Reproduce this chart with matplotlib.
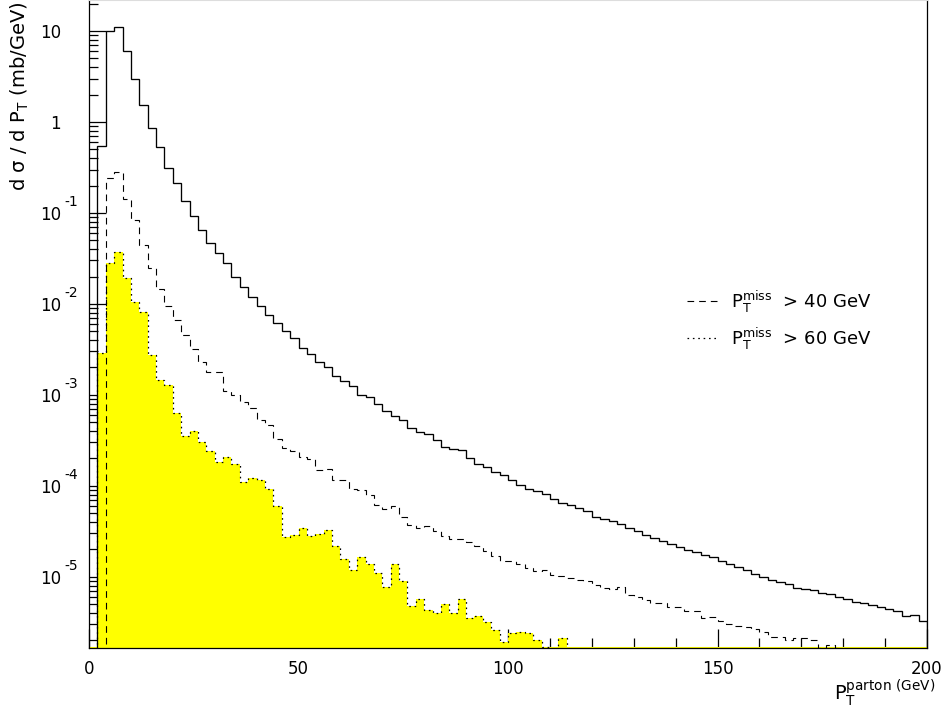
import numpy as np
import matplotlib
matplotlib.use("Agg")
import matplotlib.pyplot as plt
from matplotlib.lines import Line2D
from matplotlib import transforms

plt.rcParams['font.family'] = ['DejaVu Sans']
plt.rcParams['mathtext.fontset'] = 'dejavusans'

# ---- data (2 GeV bins, 0..200 GeV) ----
bin_edges = np.arange(0, 202, 2)

total = [0, 0.55, 10.0, 11.1, 6.0, 3.0, 1.54, 0.865, 0.536, 0.31,
         0.212, 0.134, 0.093, 0.065, 0.047, 0.036, 0.028, 0.020, 0.0155, 0.012,
         0.0095, 0.0076, 0.0062, 0.0050, 0.0042, 0.0033, 0.0028, 0.00232, 0.0020, 0.00163,
         0.00143, 0.00124, 0.0010, 0.00094, 0.00079, 0.00067, 0.00059, 0.00053, 0.000427, 0.00039,
         0.00037, 0.00032, 0.000266, 0.000253, 0.000245, 0.0002, 0.000176, 0.000162, 0.000141, 0.000132,
         0.000115, 0.000102, 0.000093, 0.000087, 0.000081, 0.000072, 6.45e-5, 6.17e-5, 5.69e-5, 5.23e-5,
         4.49e-5, 4.3e-5, 4.15e-5, 3.8e-5, 3.43e-5, 3.17e-5, 2.9e-5, 2.66e-5, 2.49e-5, 2.29e-5,
         2.12e-5, 1.98e-5, 1.87e-5, 1.75e-5, 1.65e-5, 1.51e-5, 1.39e-5, 1.28e-5, 1.19e-5, 1.08e-5,
         9.9e-6, 9.3e-6, 8.7e-6, 8.3e-6, 7.6e-6, 7.3e-6, 7.2e-6, 6.6e-6, 6.4e-6, 6.0e-6,
         5.7e-6, 5.3e-6, 5.1e-6, 4.9e-6, 4.7e-6, 4.4e-6, 4.2e-6, 3.7e-6, 3.8e-6, 3.3e-6]

miss40 = [0, 0, 0.24, 0.28, 0.141, 0.084, 0.0445, 0.0246, 0.0144, 0.0095,
          0.0066, 0.0045, 0.0032, 0.0023, 0.0018, 0.0018, 0.0011, 0.0010, 0.00083, 0.000715,
          0.00053, 0.00047, 0.00033, 0.00026, 0.00024, 0.00021, 0.000198, 0.000151, 0.000155, 0.000115,
          0.000115, 0.000092, 0.000089, 0.00008, 6.17e-5, 5.62e-5, 6.0e-5, 4.57e-5, 3.71e-5, 3.43e-5,
          3.66e-5, 3.17e-5, 2.83e-5, 2.63e-5, 2.63e-5, 2.42e-5, 2.16e-5, 1.9e-5, 1.71e-5, 1.49e-5,
          1.49e-5, 1.39e-5, 1.26e-5, 1.16e-5, 1.18e-5, 1.06e-5, 1.02e-5, 9.6e-6, 9.3e-6, 9.0e-6,
          8.1e-6, 7.5e-6, 7.4e-6, 7.8e-6, 6.3e-6, 6.0e-6, 5.6e-6, 5.2e-6, 5.2e-6, 4.7e-6,
          4.7e-6, 4.2e-6, 4.2e-6, 3.5e-6, 3.6e-6, 3.3e-6, 3.0e-6, 2.9e-6, 2.8e-6, 2.7e-6,
          2.5e-6, 2.2e-6, 2.2e-6, 2.0e-6, 2.1e-6, 2.1e-6, 2.0e-6, 1.65e-6, 1.8e-6, 1.65e-6,
          0, 0, 0, 0, 0, 0, 0, 0, 0, 0]

miss60 = [0, 0.00287, 0.0284, 0.0376, 0.0191, 0.0106, 0.0082, 0.00275, 0.00146, 0.00129,
          0.00063, 0.000355, 0.0004, 0.0003, 0.00024, 0.000183, 0.000205, 0.000173, 0.00011, 0.000122,
          0.000115, 0.000092, 0.00006, 2.75e-5, 2.9e-5, 3.43e-5, 2.78e-5, 2.95e-5, 3.28e-5, 2.16e-5,
          1.55e-5, 1.18e-5, 1.66e-5, 1.39e-5, 1.1e-5, 7.7e-6, 1.39e-5, 9.1e-6, 4.8e-6, 5.7e-6,
          4.3e-6, 4.0e-6, 5.0e-6, 4.0e-6, 5.7e-6, 3.5e-6, 3.7e-6, 3.2e-6, 2.6e-6, 1.9e-6,
          2.4e-6, 2.5e-6, 2.4e-6, 2.0e-6, 1.7e-6, 1.6e-6, 2.1e-6, 1.6e-6, 1.6e-6, 0,
          0, 0, 0, 0, 0, 0, 0, 0, 0, 0,
          0, 0, 0, 0, 0, 0, 0, 0, 0, 0,
          0, 0, 0, 0, 0, 0, 0, 0, 0, 0,
          0, 0, 0, 0, 0, 0, 0, 0, 0, 0]

legend_labels = [r"P$_\mathrm{T}^\mathrm{miss}$  > 40 GeV",
                 r"P$_\mathrm{T}^\mathrm{miss}$  > 60 GeV"]

y_decades = [1e-5, 1e-4, 1e-3, 1e-2, 1e-1, 1, 10]
y_ticklabels = ["10", "10", "10", "10", "10", "1", "10"]
y_exponents = {1e-5: "-5", 1e-4: "-4", 1e-3: "-3", 1e-2: "-2", 1e-1: "-1"}

ymin, ymax = 1.65e-6, 21.9
floor = 1e-9

def clip(v):
    v = np.asarray(v, dtype=float)
    return np.where(v > 0, v, floor)

fig = plt.figure(figsize=(9.43, 7.13), dpi=100)
ax = fig.add_axes([89 / 943, 65 / 713, 838 / 943, 648 / 713])
ax.set_yscale('log')
ax.set_xlim(0, 200)
ax.set_ylim(ymin, ymax)
ax.set_axisbelow(True)

dot_style = (0, (1.3, 3.0))
dash_style = (0, (6, 4.5))

# yellow filled histogram (>60 GeV)
ax.stairs(clip(miss60), bin_edges, baseline=floor, fill=True,
          facecolor='#ffff00', edgecolor='none', zorder=1)
ax.axhline(ymin, color='#ffff00', lw=2.2, zorder=1.5)
ax.stairs(clip(miss60), bin_edges, baseline=floor, color='black',
          lw=0.9, linestyle=dot_style, zorder=2)
# dashed (>40 GeV)
ax.stairs(clip(miss40), bin_edges, baseline=floor, color='black',
          lw=0.8, linestyle=dash_style, zorder=2)
# solid total
ax.stairs(clip(total), bin_edges, baseline=floor, color='black',
          lw=0.95, zorder=2)

# axes styling
for s in ['left', 'bottom', 'right']:
    ax.spines[s].set_color('black')
    ax.spines[s].set_linewidth(0.9)
ax.spines['top'].set_color('#dddddd')

ax.set_xticks([0, 50, 100, 150, 200])
ax.set_xticks(np.arange(0, 201, 10), minor=True)
ax.set_xticklabels(["0", "50", "100", "150", "200"])
ax.set_yticks(y_decades)
ax.set_yticklabels(y_ticklabels)
minor_y = [m * 10.0 ** e for e in range(-6, 2) for m in range(2, 10)]
minor_y = [v for v in minor_y if ymin <= v <= ymax]
ax.set_yticks(minor_y, minor=True)
ax.yaxis.set_minor_formatter(matplotlib.ticker.NullFormatter())

ax.tick_params(axis='x', which='major', direction='in', length=13.5, width=0.9,
               labelsize=12, pad=9, top=False)
ax.tick_params(axis='x', which='minor', direction='in', length=7, width=0.9, top=False)
ax.tick_params(axis='y', which='major', direction='in', length=12, width=0.9,
               labelsize=12, pad=20, right=False)
ax.tick_params(axis='y', which='minor', direction='in', length=6.5, width=0.9, right=False)

# exponents for negative decades
for val, txt in y_exponents.items():
    tr = transforms.blended_transform_factory(fig.transFigure, ax.transData)
    tr = transforms.offset_copy(tr, fig=fig, x=0, y=11, units='dots')
    ax.text(64 / 943, val, txt, transform=tr, fontsize=10, ha='left', va='center')

# legend
handles = [Line2D([], [], color='black', lw=0.8, linestyle=dash_style),
           Line2D([], [], color='black', lw=0.9, linestyle=dot_style)]
ax.legend(handles, legend_labels, loc='center left', bbox_to_anchor=(0.7136, 0.506),
          frameon=False, fontsize=13, handlelength=1.72, handletextpad=0.72,
          labelspacing=0.62, borderpad=0, borderaxespad=0)

# axis titles
fig.text(935 / 943, 1 - 693 / 713, r"P$_\mathrm{T}^\mathrm{parton\ (GeV)}$", fontsize=14,
         ha='right', va='center')
fig.text(20 / 943, 1 - 2 / 713, r"d σ / d P$_\mathrm{T}$ (mb/GeV)", fontsize=14,
         rotation=90, ha='center', va='top')

fig.savefig("out.png", dpi=100)
